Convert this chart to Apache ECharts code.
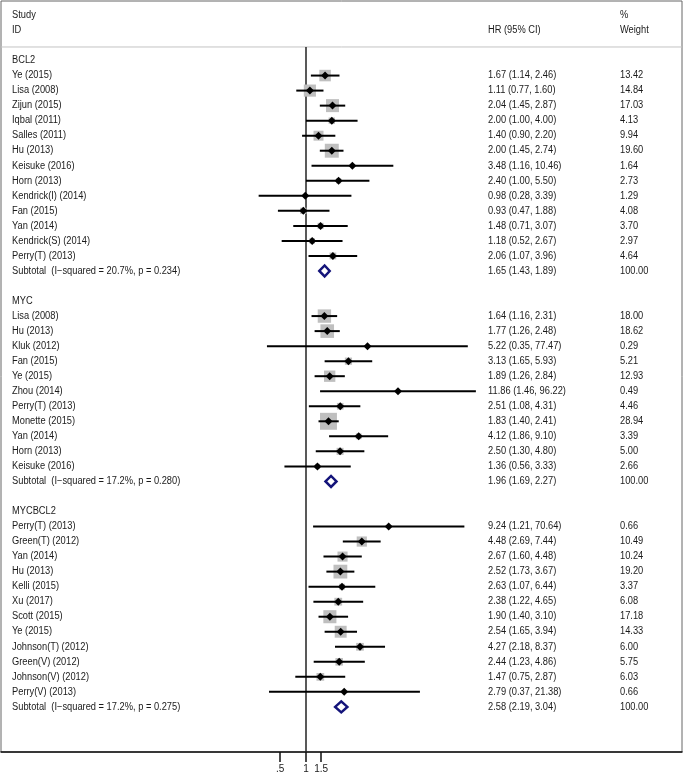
<!DOCTYPE html>
<html>
<head>
<meta charset="utf-8">
<script src="https://cdn.jsdelivr.net/npm/echarts@6/dist/echarts.min.js"></script>
<style>
  html, body { margin: 0; padding: 0; background: #fff; }
  #chart { width: 685px; height: 776px; }
</style>
</head>
<body>
<div id="chart"></div>
<script>
// ---------- data ----------
const groupNames = ['BCL2', 'MYC', 'MYCBCL2'];

const bcl2Studies = ['Ye (2015)', 'Lisa (2008)', 'Zijun (2015)', 'Iqbal (2011)', 'Salles (2011)', 'Hu (2013)',
  'Keisuke (2016)', 'Horn (2013)', 'Kendrick(I) (2014)', 'Fan (2015)', 'Yan (2014)', 'Kendrick(S) (2014)', 'Perry(T) (2013)'];
const bcl2HR = [1.67, 1.11, 2.04, 2.00, 1.40, 2.00, 3.48, 2.40, 0.98, 0.93, 1.48, 1.18, 2.06];
const bcl2Low = [1.14, 0.77, 1.45, 1.00, 0.90, 1.45, 1.16, 1.00, 0.28, 0.47, 0.71, 0.52, 1.07];
const bcl2High = [2.46, 1.60, 2.87, 4.00, 2.20, 2.74, 10.46, 5.50, 3.39, 1.88, 3.07, 2.67, 3.96];
const bcl2Weight = [13.42, 14.84, 17.03, 4.13, 9.94, 19.60, 1.64, 2.73, 1.29, 4.08, 3.70, 2.97, 4.64];

const mycStudies = ['Lisa (2008)', 'Hu (2013)', 'Kluk (2012)', 'Fan (2015)', 'Ye (2015)', 'Zhou (2014)',
  'Perry(T) (2013)', 'Monette (2015)', 'Yan (2014)', 'Horn (2013)', 'Keisuke (2016)'];
const mycHR = [1.64, 1.77, 5.22, 3.13, 1.89, 11.86, 2.51, 1.83, 4.12, 2.50, 1.36];
const mycLow = [1.16, 1.26, 0.35, 1.65, 1.26, 1.46, 1.08, 1.40, 1.86, 1.30, 0.56];
const mycHigh = [2.31, 2.48, 77.47, 5.93, 2.84, 96.22, 4.31, 2.41, 9.10, 4.80, 3.33];
const mycWeight = [18.00, 18.62, 0.29, 5.21, 12.93, 0.49, 4.46, 28.94, 3.39, 5.00, 2.66];

const mycbcl2Studies = ['Perry(T) (2013)', 'Green(T) (2012)', 'Yan (2014)', 'Hu (2013)', 'Kelli (2015)', 'Xu (2017)',
  'Scott (2015)', 'Ye (2015)', 'Johnson(T) (2012)', 'Green(V) (2012)', 'Johnson(V) (2012)', 'Perry(V) (2013)'];
const mycbcl2HR = [9.24, 4.48, 2.67, 2.52, 2.63, 2.38, 1.90, 2.54, 4.27, 2.44, 1.47, 2.79];
const mycbcl2Low = [1.21, 2.69, 1.60, 1.73, 1.07, 1.22, 1.40, 1.65, 2.18, 1.23, 0.75, 0.37];
const mycbcl2High = [70.64, 7.44, 4.48, 3.67, 6.44, 4.65, 3.10, 3.94, 8.37, 4.86, 2.87, 21.38];
const mycbcl2Weight = [0.66, 10.49, 10.24, 19.20, 3.37, 6.08, 17.18, 14.33, 6.00, 5.75, 6.03, 0.66];

const subtotalLabels = [
  'Subtotal  (I\u2212squared = 20.7%, p = 0.234)',
  'Subtotal  (I\u2212squared = 17.2%, p = 0.280)',
  'Subtotal  (I\u2212squared = 17.2%, p = 0.275)'
];
const subtotalHR = [1.65, 1.96, 2.58];
const subtotalLow = [1.43, 1.69, 2.19];
const subtotalHigh = [1.89, 2.27, 3.04];
const subtotalWeight = [100, 100, 100];

const xTicks = [0.5, 1, 1.5];
const xTickLabels = ['.5', '1', '1.5'];

// ---------- build rows ----------
const groups = [
  { studies: bcl2Studies, hr: bcl2HR, lo: bcl2Low, hi: bcl2High, w: bcl2Weight },
  { studies: mycStudies, hr: mycHR, lo: mycLow, hi: mycHigh, w: mycWeight },
  { studies: mycbcl2Studies, hr: mycbcl2HR, lo: mycbcl2Low, hi: mycbcl2High, w: mycbcl2Weight }
];

function fmtCI(hr, lo, hi) {
  return hr.toFixed(2) + ' (' + lo.toFixed(2) + ', ' + hi.toFixed(2) + ')';
}

var studyData = [];     // [hr, row, lo, hi, weight]
var subtotalData = [];  // [hr, row, lo, hi]
var textItems = [       // header
  { row: -3, col: 0, text: 'Study' },
  { row: -2, col: 0, text: 'ID' },
  { row: -2, col: 1, text: 'HR (95% CI)' },
  { row: -3, col: 2, text: '%' },
  { row: -2, col: 2, text: 'Weight' }
];

var r = 0;
groups.forEach(function (g, gi) {
  textItems.push({ row: r, col: 0, text: groupNames[gi] });
  r++;
  g.studies.forEach(function (s, i) {
    studyData.push([g.hr[i], r, g.lo[i], g.hi[i], g.w[i]]);
    textItems.push({ row: r, col: 0, text: s });
    textItems.push({ row: r, col: 1, text: fmtCI(g.hr[i], g.lo[i], g.hi[i]) });
    textItems.push({ row: r, col: 2, text: g.w[i].toFixed(2) });
    r++;
  });
  subtotalData.push([subtotalHR[gi], r, subtotalLow[gi], subtotalHigh[gi]]);
  textItems.push({ row: r, col: 0, text: subtotalLabels[gi] });
  textItems.push({ row: r, col: 1, text: fmtCI(subtotalHR[gi], subtotalLow[gi], subtotalHigh[gi]) });
  textItems.push({ row: r, col: 2, text: subtotalWeight[gi].toFixed(2) });
  r += 2; // blank row between groups
});

// ---------- layout ----------
const colX = [12, 488, 620];
const pxPerLn = 37.2;           // horizontal scale of the log axis
const gridLeft = 1, gridTop = 1, gridWidth = 681, gridHeight = 751;
const nullX = 306;
const xMin = Math.exp(-(nullX - gridLeft) / pxPerLn);
const xMax = Math.exp((gridLeft + gridWidth - nullX) / pxPerLn);
const yMin = -3.96, yMax = 46.0;
const dividerRow = -0.9;
const FONT = '"Liberation Sans", Arial, Helvetica, sans-serif';

const chart = echarts.init(document.getElementById('chart'));

function renderStudy(params, api) {
  var c = api.coord([api.value(0), api.value(1)]);
  var l = api.coord([api.value(2), api.value(1)]);
  var h = api.coord([api.value(3), api.value(1)]);
  var side = 3.15 * Math.sqrt(api.value(4));
  var d = 4;
  return {
    type: 'group',
    children: [
      { type: 'rect', shape: { x: c[0] - side / 2, y: c[1] - side / 2, width: side, height: side },
        style: { fill: '#bfbfbf' } },
      { type: 'line', shape: { x1: l[0], y1: c[1], x2: h[0], y2: c[1] },
        style: { stroke: '#000', lineWidth: 2 } },
      { type: 'polygon', shape: { points: [[c[0] - d, c[1]], [c[0], c[1] - d], [c[0] + d, c[1]], [c[0], c[1] + d]] },
        style: { fill: '#000' } }
    ]
  };
}

function renderSubtotal(params, api) {
  var c = api.coord([api.value(0), api.value(1)]);
  var l = api.coord([api.value(2), api.value(1)]);
  var h = api.coord([api.value(3), api.value(1)]);
  var dh = 5.5;
  return {
    type: 'polygon',
    shape: { points: [[l[0], c[1]], [c[0], c[1] - dh], [h[0], c[1]], [c[0], c[1] + dh]] },
    style: { fill: 'none', stroke: '#14147a', lineWidth: 2.5 }
  };
}

function renderText(params, api) {
  var item = textItems[api.value(2)];
  var y = api.coord([1, api.value(1)])[1];
  return {
    type: 'text',
    x: colX[item.col],
    y: y,
    scaleX: 0.93,
    style: {
      text: item.text, fill: '#1a1a1a', fontSize: 10, fontFamily: FONT,
      align: 'left', verticalAlign: 'middle'
    }
  };
}

function renderFrame(params, api) {
  var cs = params.coordSys;
  var yDiv = api.coord([1, dividerRow])[1];
  var x1 = api.coord([1, 0])[0];
  return {
    type: 'group',
    children: [
      { type: 'line', shape: { x1: cs.x, y1: yDiv, x2: cs.x + cs.width, y2: yDiv },
        style: { stroke: '#c4c4c4', lineWidth: 1 } },
      { type: 'line', shape: { x1: x1, y1: yDiv, x2: x1, y2: cs.y + cs.height },
        style: { stroke: '#222', lineWidth: 1.5 } }
    ]
  };
}

var option = {
  backgroundColor: '#ffffff',
  animation: false,
  grid: {
    left: gridLeft, top: gridTop, width: gridWidth, height: gridHeight,
    outerBoundsMode: 'none',
    show: true, borderColor: '#666', borderWidth: 1
  },
  xAxis: {
    type: 'log',
    min: xMin,
    max: xMax,
    axisLine: { show: true, onZero: false, lineStyle: { color: '#111', width: 1.5 } },
    axisTick: { show: true, customValues: xTicks, length: 10, lineStyle: { color: '#111', width: 1.5 } },
    axisLabel: {
      customValues: xTicks, margin: 12, fontSize: 10, fontFamily: FONT, color: '#1a1a1a',
      formatter: function (v) {
        var best = 0;
        xTicks.forEach(function (t, i) { if (Math.abs(t - v) < Math.abs(xTicks[best] - v)) best = i; });
        return xTickLabels[best];
      }
    },
    splitLine: { show: false },
    minorTick: { show: false }
  },
  yAxis: {
    type: 'value',
    inverse: true,
    min: yMin,
    max: yMax,
    show: false
  },
  series: [
    { type: 'custom', name: 'frame', renderItem: renderFrame, data: [[1, 0]], silent: true, z: 1 },
    { type: 'custom', name: 'studies', renderItem: renderStudy, data: studyData,
      encode: { x: 0, y: 1 }, silent: true, z: 3 },
    { type: 'custom', name: 'subtotal', renderItem: renderSubtotal, data: subtotalData,
      encode: { x: 0, y: 1 }, silent: true, z: 3 },
    { type: 'custom', name: 'text', renderItem: renderText,
      data: textItems.map(function (t, i) { return [1, t.row, i]; }),
      encode: { x: 0, y: 1 }, silent: true, z: 4 }
  ]
};

chart.setOption(option);
</script>
</body>
</html>
